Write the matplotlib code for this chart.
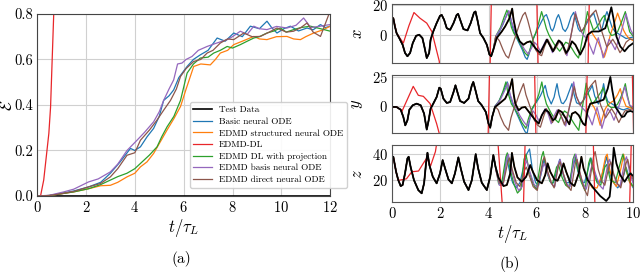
import numpy as np
import matplotlib
matplotlib.use("Agg")
import matplotlib.pyplot as plt

plt.rcParams["font.family"] = "serif"
plt.rcParams["font.serif"] = ["cmr10", "DejaVu Serif"]
plt.rcParams["mathtext.fontset"] = "cm"
plt.rcParams["axes.formatter.use_mathtext"] = True
plt.rcParams["axes.unicode_minus"] = False

C_BLUE, C_ORANGE, C_GREEN = "#1f77b4", "#ff7f0e", "#2ca02c"
C_RED, C_PURPLE, C_BROWN = "#e8262a", "#9467bd", "#8c564b"

# ---------------- (a) error growth ----------------
err_red_t = [0.0, 0.14, 0.27, 0.48, 0.55, 0.68, 0.75]
err_red = [0.0, 0.0, 0.07, 0.275, 0.39, 0.8, 0.95]

err_blue_t = [0, 0.5, 1, 1.5, 2.11, 2.6, 3, 3.4, 3.82, 4.0, 4.23, 4.5, 4.77, 5.0, 5.18, 5.4, 5.59, 5.8, 6.14, 6.4, 6.68, 7.0, 7.37, 7.7, 8.05, 8.4, 8.73, 9.1, 9.41, 9.6, 9.82, 10.1, 10.37, 10.7, 11.05, 11.3, 11.6, 11.8, 12]
err_blue = [0, 0.002, 0.012, 0.022, 0.04, 0.06, 0.1, 0.15, 0.209, 0.2, 0.216, 0.26, 0.297, 0.35, 0.42, 0.44, 0.466, 0.52, 0.569, 0.6, 0.62, 0.64, 0.694, 0.68, 0.716, 0.7, 0.746, 0.735, 0.768, 0.74, 0.716, 0.735, 0.746, 0.725, 0.738, 0.73, 0.753, 0.74, 0.746]

err_purple_t = [0, 0.5, 1.09, 1.5, 2.11, 2.5, 3, 3.3, 3.68, 4.09, 4.4, 4.77, 5.0, 5.18, 5.4, 5.59, 5.75, 5.93, 6.1, 6.34, 6.6, 6.96, 7.3, 7.78, 8.0, 8.32, 8.6, 8.87, 9.1, 9.41, 9.8, 10.23, 10.6, 10.91, 11.2, 11.6, 11.8, 12]
err_purple = [0, 0.003, 0.018, 0.03, 0.062, 0.075, 0.106, 0.14, 0.2, 0.245, 0.28, 0.326, 0.37, 0.42, 0.47, 0.51, 0.58, 0.584, 0.6, 0.613, 0.64, 0.657, 0.67, 0.687, 0.7, 0.724, 0.71, 0.746, 0.735, 0.731, 0.745, 0.738, 0.75, 0.782, 0.74, 0.746, 0.75, 0.753]

err_brown_t = [0, 0.5, 1, 1.5, 2.11, 2.6, 3, 3.3, 3.68, 4.0, 4.23, 4.6, 4.91, 5.2, 5.46, 5.7, 5.87, 6.1, 6.41, 6.7, 6.96, 7.2, 7.5, 7.8, 8.05, 8.46, 8.8, 9.14, 9.5, 9.82, 10.2, 10.5, 10.8, 11.05, 11.3, 11.6, 11.94, 12]
err_brown = [0, 0.002, 0.01, 0.02, 0.04, 0.055, 0.084, 0.12, 0.179, 0.19, 0.245, 0.29, 0.334, 0.38, 0.42, 0.47, 0.525, 0.56, 0.591, 0.6, 0.628, 0.64, 0.672, 0.69, 0.687, 0.716, 0.7, 0.701, 0.72, 0.738, 0.72, 0.724, 0.74, 0.76, 0.72, 0.701, 0.797, 0.81]

err_green_t = [0, 0.5, 1, 1.5, 2.11, 2.6, 3, 3.3, 3.68, 4.0, 4.23, 4.6, 4.91, 5.1, 5.32, 5.6, 5.87, 6.14, 6.4, 6.68, 7.0, 7.23, 7.5, 7.78, 8.0, 8.32, 8.6, 8.87, 9.1, 9.41, 9.7, 9.96, 10.2, 10.5, 10.8, 11.19, 11.6, 12]
err_green = [0, 0.002, 0.01, 0.018, 0.032, 0.05, 0.07, 0.085, 0.1, 0.12, 0.143, 0.18, 0.216, 0.26, 0.304, 0.35, 0.42, 0.54, 0.58, 0.606, 0.61, 0.628, 0.64, 0.657, 0.65, 0.665, 0.68, 0.694, 0.7, 0.716, 0.725, 0.738, 0.72, 0.731, 0.74, 0.746, 0.735, 0.724]

err_orange_t = [0, 0.5, 1, 1.5, 2.11, 2.6, 3, 3.3, 3.68, 4.0, 4.23, 4.5, 4.77, 5.0, 5.32, 5.6, 5.87, 6.1, 6.41, 6.7, 7.09, 7.3, 7.5, 7.8, 8.05, 8.4, 8.87, 9.1, 9.41, 9.8, 10.23, 10.5, 10.78, 11.0, 11.32, 11.7, 12]
err_orange = [0, 0.002, 0.01, 0.018, 0.032, 0.045, 0.047, 0.06, 0.084, 0.1, 0.128, 0.15, 0.187, 0.23, 0.29, 0.34, 0.393, 0.47, 0.569, 0.58, 0.576, 0.6, 0.628, 0.64, 0.665, 0.68, 0.701, 0.69, 0.687, 0.7, 0.701, 0.69, 0.687, 0.7, 0.716, 0.73, 0.746]

# ---------------- (b) trajectories (test data) ----------------
bx_t = [0, 0.055, 0.12, 0.19, 0.3, 0.44, 0.54, 0.64, 0.75, 0.86, 1.0, 1.13, 1.26, 1.34, 1.44, 1.54, 1.6, 1.71,
        1.85, 1.99, 2.06, 2.16, 2.27, 2.41, 2.55, 2.68, 2.74, 2.85, 2.96, 3.13, 3.26, 3.4, 3.46, 3.54, 3.65,
        3.79, 3.93, 4.04, 4.11, 4.2, 4.34, 4.55, 4.69, 4.87, 4.98, 5.04, 5.15, 5.29, 5.45, 5.59, 5.73, 5.94,
        6.14, 6.28, 6.42, 6.53, 6.67, 6.81, 6.91, 7.04, 7.22, 7.32, 7.46, 7.6, 7.8, 7.97, 8.11, 8.29, 8.57,
        8.84, 8.99, 9.09, 9.19, 9.3, 9.46, 9.64, 9.81, 10.0]
bx = [11, 11.1, 5.6, 1.1, -2.2, -6.7, -12.2, -14.4, -12.2, -5.6, -0.7, 0, -2.2, -7.8, -15.6, -12.2, -3.3, 2.2,
      7.8, 12.7, 13.3, 10, 4.4, 3.3, 7.8, 13.3, 14, 8.9, 3.8, 2.9, 7.8, 14.9, 15.6, 10, 1.1,
      -2.2, -6.7, -13.3, -14.4, -10, -2.2, 2.2, 5.6, 11.1, 17.5, 10, 1.1, -4.4, -6.7, -5.1, -4.4, -8.9,
      -12.2, -7.8, -3.3, -6.7, -11.1, -6.7, -3.8, -5.6, -12.2, -10, -4.4, -6.7, -13.3, -7.8, 0, 2.2, 2.2,
      4.4, 12.2, 18.4, 10, -1.1, -7.8, -11.1, -7.8, -5.6]

by_t = [0, 0.19, 0.36, 0.47, 0.55, 0.64, 0.72, 0.86, 1.02, 1.19, 1.33, 1.44, 1.52, 1.6, 1.71, 1.85, 1.96, 2.02,
        2.13, 2.27, 2.41, 2.55, 2.63, 2.71, 2.82, 2.99, 3.17, 3.31, 3.37, 3.46, 3.57, 3.72, 3.89, 4.0, 4.07,
        4.15, 4.27, 4.48, 4.69, 4.88, 4.98, 5.04, 5.11, 5.25, 5.38, 5.52, 5.73, 5.94, 6.08, 6.21, 6.35, 6.49,
        6.67, 6.77, 6.91, 7.04, 7.25, 7.35, 7.46, 7.6, 7.74, 7.92, 8.01, 8.11, 8.22, 8.5, 8.77, 8.94, 9.05,
        9.13, 9.26, 9.4, 9.53, 9.63, 9.74, 9.88, 10.0]
by = [-0.5, -0.6, -2.9, -9.2, -16.4, -12, -2.9, 0.9, 2.3, 0.9, -6.3, -20, -12, -2, 2.3, 8, 16.1, 15.2,
      6.6, 2.9, 3.7, 12.3, 18.1, 12.3, 4.6, 2.9, 6.6, 18.1, 21, 13.8, 4.6, 0.9, -4.9, -14.9, -18.4,
      -9.2, -0.6, 2.9, 6.6, 15.2, 23.5, 10.9, 2.3, -3.4, -1.1, -0.6, -6.3, -12, -14.9, -7.7, -2.9, -4.9,
      -12, -10.6, -3.4, -4.9, -12, -15.5, -6.3, -4.9, -7.7, -14.9, -16.4, -3.4, 2.3, 3.7, 5.7, 15.2, 25.3,
      13.8, -0.6, -4.9, -9.2, -8.6, -4.9, -4, -4.9]

bz_t = [0, 0.055, 0.17, 0.26, 0.36, 0.44, 0.54, 0.64, 0.69, 0.77, 0.91, 1.09, 1.23, 1.33, 1.41, 1.47, 1.55,
        1.69, 1.85, 1.99, 2.1, 2.2, 2.34, 2.48, 2.61, 2.75, 2.85, 2.99, 3.17, 3.31, 3.47, 3.57, 3.72, 3.93,
        4.07, 4.2, 4.29, 4.41, 4.62, 4.76, 4.9, 4.97, 5.07, 5.2, 5.38, 5.56, 5.73, 5.84, 6.01, 6.21, 6.35,
        6.45, 6.56, 6.73, 6.86, 7.0, 7.11, 7.22, 7.39, 7.56, 7.74, 7.85, 7.94, 8.11, 8.36, 8.63, 8.88, 9.02,
        9.12, 9.19, 9.3, 9.46, 9.64, 9.77, 9.88, 10.0]
bz = [38, 38, 26.4, 20, 15.4, 16.2, 25.2, 36.7, 38, 30.3, 20, 12.3, 9.8, 17.5, 32.9, 41.1, 31.6,
      22.6, 17.5, 25.2, 35.4, 29, 20.5, 17.5, 25.2, 37.5, 29, 18.7, 12.3, 20, 40, 29, 18, 12.3,
      22.6, 39.3, 30.3, 22, 15.4, 16.2, 25.2, 41, 30.3, 22.1, 18.7, 22.6, 31.6, 26.4, 20, 17.5, 23.9,
      32.9, 26.4, 20.5, 19.5, 25.2, 32.9, 26.4, 18, 15.4, 25.2, 38, 29, 20, 13.6, 7.7, 3.9, 7.2,
      25.2, 45, 32.9, 23.9, 18.7, 22.6, 25.2, 23.1]

# red (EDMD-DL) diverges early and leaves the axes
rx_t = [0, 0.055, 0.19, 0.47, 0.7, 0.91, 1.16, 1.44, 1.65, 1.96, 2.1, 4.02, 4.16, 5.96, 6.1, 8.08, 8.22, 10.0]
rx = [11, 11.1, 1.1, -5.6, 6, 14.9, 11.1, 7.8, 2.2, -17.8, -60, -60, 60, 60, -60, -60, 60, 60]
ry_t = [0, 0.19, 0.36, 0.4, 0.68, 0.88, 1.09, 1.3, 1.58, 1.85, 1.96, 2.1, 3.95, 4.07, 5.88, 6.0, 8.0, 8.12, 9.93, 10.05]
ry = [-0.5, -0.6, -2.9, -4.9, 8, 17.2, 9.5, 8.6, 2.3, -15, -23.5, -60, -60, 60, 60, -60, -60, 60, 60, -60]
rz_t = [0, 0.055, 0.17, 0.26, 0.33, 0.6, 0.82, 1.1, 1.3, 1.44, 1.6, 1.8, 1.95, 4.35, 4.65, 5.42, 5.56, 8.3, 8.44, 9.82, 9.96]
rz = [38, 38, 26.4, 20, 20, 21, 26.4, 27, 33, 37, 31, 42, 60, 60, -20, -20, 80, 80, -20, -20, 80]

# other models: own points after they leave the test trajectory
blue_x_t = [4.3, 4.45, 4.6, 4.72, 4.82, 4.9, 5.0, 5.1, 5.25, 5.4, 5.52, 5.6, 5.68, 5.78, 5.9, 6.05, 6.2, 6.32, 6.4, 6.5, 6.58, 6.65, 6.72, 6.82, 6.9, 6.98, 7.08, 7.18, 7.28, 7.42, 7.53, 7.62, 7.72, 7.8, 7.92, 8.05, 8.2, 8.36, 8.46, 8.56, 8.63, 8.72, 8.83, 8.91, 9.0, 9.12, 9.25, 9.4, 9.55, 9.7, 9.85, 10]
blue_x = [-2, 2, 7, 12, 16, 12, 5, 0, -5, -10, -15, -16.5, -13, -6, -1, 4, 9, 12.5, 13.5, 9, 4, 2.5, 5, 11, 13.5, 10, 4, 2.2, 5, 12, 15, 10, 4, 2.2, 3.5, 7, 11.5, 14.5, 9, 4, 2.2, 5, 12, 15.5, 11, 5, 2, 0.5, -1, -2.5, -2, -1.5]
orange_x_t = [8.3, 8.42, 8.55, 8.68, 8.8, 8.9, 9.05, 9.18, 9.28, 9.35, 9.45, 9.6, 9.7, 9.8, 10]
orange_x = [1, -2, -5, -10, -15, -10, 0, 6, 11, 14.5, 10, 3, 0, -2, -4]
green_x_t = [4.3, 4.5, 4.65, 4.76, 4.85, 4.95, 5.05, 5.2, 5.35, 5.5, 5.62, 5.72, 5.82, 5.95, 6.08, 6.2, 6.3, 6.4, 6.5, 6.6, 6.75, 6.95, 7.08, 7.2, 7.32, 7.45, 7.6, 7.73, 7.82, 7.9, 8.0, 8.1, 8.2, 8.35, 8.48, 8.6, 8.7, 8.8, 8.9, 9.0, 9.1, 9.2, 9.35, 9.5, 9.67, 9.75, 9.85, 10]
green_x = [-1, 5, 12, 16.5, 12, 5, 1, -2.5, -7, -12, -14, -10, -4, 1, 8, 15.5, 10, 4, 0, -3, -7, -11, -8, -5, -6, -9, -13, -15.6, -9, -2, 6, 15.5, 10, 3, 5, 8, 11, 13, 8, 2, -0.5, 0, 2, 8, 15.5, 9, 2, -1]
purple_x_t = [4.3, 4.5, 4.7, 4.85, 4.95, 5.1, 5.22, 5.35, 5.5, 5.65, 5.78, 5.9, 6.02, 6.15, 6.28, 6.4, 6.52, 6.65, 6.78, 6.9, 7.05, 7.25, 7.33, 7.4, 7.5, 7.6, 7.7, 7.85, 7.97, 8.1, 8.22, 8.35, 8.45, 8.55, 8.65, 8.75, 8.88, 9.0, 9.12, 9.25, 9.38, 9.5, 9.6, 9.7, 9.8, 9.9, 10]
purple_x = [-1, 4, 11, 16, 9, 2, -2, -6, -10, -13, -9, -5, -7, -11, -7, -3, -6, -12, -8, -4, -7, -14, -8, -2, 7, 15.5, 9, 2, -1, -3, -8, -13, -7, -2, -8, -15.5, -9, -3, -6, -10, -4, 2, 8, 14, 8, 3, 0]
brown_x_t = [4.3, 4.45, 4.6, 4.72, 4.83, 4.95, 5.1, 5.2, 5.3, 5.42, 5.52, 5.62, 5.75, 5.85, 5.95, 6.08, 6.2, 6.32, 6.45, 6.58, 6.7, 6.82, 6.95, 7.08, 7.2, 7.3, 7.4, 7.5, 7.6, 7.72, 7.85, 7.97, 8.1, 8.3, 8.45, 8.57, 8.7, 8.8, 8.9, 9.02, 9.15, 9.3, 9.45, 9.58, 9.7, 9.85, 10]
brown_x = [-1, -4, -10, -14, -15.6, -9, -2, 3, 8, 13, 15, 10, 2, -4, -10, -13, -14, -8, -3, -7, -11, -8, -4, -8, -13, -9, -2, 6, 14, 8, 2, 5, 10, 14, 16.5, 10, 2, -3, -8, -6, -3, -7, -12, -9, -5, -3, -3]

blue_y_t = [4.27, 4.42, 4.6, 4.72, 4.78, 4.86, 5.0, 5.12, 5.25, 5.42, 5.52, 5.6, 5.68, 5.8, 5.9, 6.0, 6.15, 6.28, 6.35, 6.45, 6.6, 6.72, 6.8, 6.84, 6.92, 7.02, 7.1, 7.22, 7.38, 7.46, 7.55, 7.65, 7.75, 7.9, 8.05, 8.2, 8.3, 8.4, 8.55, 8.65, 8.72, 8.77, 8.85, 8.95, 9.05, 9.2, 9.35, 9.5, 9.6, 9.8, 10]
blue_y = [0, 4, 12, 18, 21, 12, 2, -4, -10, -18, -22, -23.5, -14, -3, 1, 4, 9, 15, 18, 9, 2, 8, 16, 19.5, 10, 3, 2.3, 6, 15, 19.5, 10, 3, 2, 4, 9, 14, 18, 9, 2, 6, 14, 19.5, 10, 4, 3, 1, -1, -2.5, -3, -1.5, 0]
orange_y_t = [8.25, 8.38, 8.5, 8.63, 8.72, 8.82, 8.9, 9.05, 9.2, 9.35, 9.46, 9.55, 9.7, 9.85, 10]
orange_y = [3, -1, -7, -16.4, -10, -3, 0, 3, 5, 10, 15.2, 8, 0, -1, -2]
green_y_t = [4.27, 4.45, 4.6, 4.72, 4.8, 4.95, 5.08, 5.2, 5.38, 5.55, 5.65, 5.8, 5.95, 6.08, 6.21, 6.3, 6.4, 6.5, 6.6, 6.75, 6.9, 7.02, 7.15, 7.28, 7.4, 7.58, 7.74, 7.82, 7.88, 7.96, 8.05, 8.15, 8.3, 8.42, 8.55, 8.65, 8.75, 8.85, 8.95, 9.08, 9.2, 9.35, 9.45, 9.58, 9.67, 9.75, 9.85, 10]
green_y = [0, 5, 13, 21, 12, 2, -2, -6, -14, -19, -11, -2, 3, 10, 21, 10, 2, -2, -6, -11, -14, -8, -4, -6, -10, -16, -20.7, -10, -2, 8, 20, 10, 2, 5, 9, 12, 16, 8, 1, -1, -1, 2, 6, 13, 19.5, 10, 1, -2]
purple_y_t = [4.27, 4.5, 4.68, 4.8, 4.9, 5.05, 5.18, 5.3, 5.45, 5.6, 5.72, 5.85, 5.98, 6.1, 6.22, 6.35, 6.48, 6.6, 6.72, 6.85, 7.0, 7.12, 7.2, 7.28, 7.35, 7.45, 7.53, 7.62, 7.8, 7.92, 8.05, 8.18, 8.3, 8.4, 8.5, 8.6, 8.7, 8.82, 8.95, 9.08, 9.2, 9.32, 9.45, 9.55, 9.65, 9.75, 9.85, 10]
purple_y = [0, 6, 14, 20, 10, 1, -3, -8, -13, -17, -10, -4, -8, -13, -7, -2, -7, -15, -8, -3, -8, -13, -17, -9, -1, 10, 21, 10, 1, -2, -5, -10, -16, -8, -1, -9, -19, -10, -2, -6, -12, -5, 3, 10, 17, 8, 1, -1]
brown_y_t = [4.27, 4.4, 4.5, 4.65, 4.83, 4.93, 5.05, 5.15, 5.25, 5.36, 5.45, 5.55, 5.7, 5.8, 5.9, 6.02, 6.15, 6.28, 6.4, 6.52, 6.65, 6.78, 6.9, 7.02, 7.15, 7.25, 7.35, 7.45, 7.55, 7.65, 7.8, 7.92, 8.05, 8.25, 8.43, 8.53, 8.65, 8.75, 8.85, 8.97, 9.1, 9.25, 9.4, 9.52, 9.65, 9.8, 10]
brown_y = [0, -3, -9, -16, -20.7, -10, -2, 3, 9, 15, 19.5, 10, 1, -5, -12, -16, -18, -9, -2, -7, -14, -8, -3, -9, -16, -9, -1, 7, 17, 8, 1, 5, 12, 18, 22.4, 10, 1, -4, -10, -6, -2, -7, -14, -9, -4, -3, -2]

blue_z_t = [4.3, 4.5, 4.62, 4.75, 4.88, 5.0, 5.15, 5.3, 5.58, 5.7, 5.82, 5.95, 6.08, 6.3, 6.42, 6.58, 6.7, 6.95, 7.05, 7.2, 7.33, 7.6, 7.7, 7.85, 7.98, 8.25, 8.36, 8.5, 8.62, 8.9, 9.0, 9.15, 9.35, 9.5, 9.7, 9.8, 9.9, 10]
blue_z = [30, 17, 20, 38, 26, 18, 14, 18, 40, 44, 28, 18, 16, 36, 26, 18, 18, 36, 27, 18, 18, 37, 27, 19, 18, 37, 28, 19, 18, 38, 27, 19, 14, 17, 30, 24, 17, 14]
orange_z_t = [8.3, 8.5, 8.7, 8.85, 8.92, 9.0, 9.15, 9.3, 9.5, 9.6, 9.7, 9.85, 10]
orange_z = [14, 14, 24, 38, 40, 30, 19, 15, 30, 40, 28, 18, 15]
green_z_t = [4.3, 4.42, 4.55, 4.72, 4.78, 4.9, 5.05, 5.2, 5.35, 5.47, 5.55, 5.7, 5.85, 5.98, 6.2, 6.27, 6.4, 6.55, 6.65, 6.82, 6.9, 7.05, 7.2, 7.35, 7.5, 7.58, 7.7, 7.85, 8.0, 8.15, 8.22, 8.35, 8.5, 8.65, 8.82, 8.9, 9.05, 9.25, 9.5, 9.57, 9.7, 9.85, 10]
green_z = [30, 17, 18, 38, 41, 28, 17, 10, 13, 36, 40, 26, 17, 13, 38, 42, 28, 19, 17, 30, 32, 22, 16, 14, 36, 40, 28, 18, 12, 33, 37, 26, 18, 16, 30, 32, 20, 18, 36, 40, 28, 19, 15]
purple_z_t = [4.3, 4.45, 4.6, 4.76, 4.82, 4.95, 5.1, 5.25, 5.4, 5.52, 5.58, 5.72, 5.88, 6.02, 6.25, 6.32, 6.45, 6.62, 6.75, 6.9, 6.97, 7.1, 7.25, 7.38, 7.55, 7.62, 7.75, 7.9, 8.05, 8.25, 8.32, 8.45, 8.6, 8.75, 8.95, 9.02, 9.15, 9.3, 9.45, 9.65, 9.72, 9.85, 10]
purple_z = [28, 16, 16, 37, 40, 28, 18, 12, 15, 32, 35, 26, 17, 14, 30, 33, 25, 17, 15, 33, 36, 25, 17, 15, 37, 40, 28, 18, 13, 29, 32, 24, 16, 13, 33, 36, 26, 18, 15, 35, 38, 26, 17]
brown_z_t = [4.3, 4.45, 4.62, 4.8, 4.87, 5.0, 5.15, 5.3, 5.5, 5.57, 5.7, 5.85, 6.02, 6.25, 6.32, 6.45, 6.6, 6.72, 6.9, 6.97, 7.1, 7.25, 7.42, 7.6, 7.67, 7.8, 7.95, 8.1, 8.35, 8.42, 8.55, 8.7, 8.82, 9.0, 9.07, 9.2, 9.35, 9.48, 9.7, 9.77, 9.9, 10]
brown_z = [28, 18, 18, 34, 37, 27, 18, 15, 28, 30, 23, 15, 12, 35, 38, 27, 18, 14, 31, 34, 25, 16, 12, 33, 36, 25, 14, 8, 38, 42, 28, 19, 16, 31, 34, 24, 17, 14, 33, 36, 25, 20]


def branch(base_t, base_v, own_t, own_v):
    # model follows the test data until its own points start
    k = int(np.searchsorted(base_t, own_t[0]))
    return list(base_t[:k]) + list(own_t), list(base_v[:k]) + list(own_v)


fig = plt.figure(figsize=(6.4, 2.78), dpi=100)

# ---- panel (a)
ax = fig.add_axes([0.058, 0.295, 0.458, 0.655])
ax.plot([0, 12], [0, 0], color="black", lw=1.2, label="Test Data")
ax.plot(err_blue_t, err_blue, color=C_BLUE, lw=0.9, label="Basic neural ODE")
ax.plot(err_orange_t, err_orange, color=C_ORANGE, lw=0.9, label="EDMD structured neural ODE")
ax.plot(err_red_t, err_red, color=C_RED, lw=0.9, label="EDMD-DL")
ax.plot(err_green_t, err_green, color=C_GREEN, lw=0.9, label="EDMD DL with projection")
ax.plot(err_purple_t, err_purple, color=C_PURPLE, lw=0.9, label="EDMD basis neural ODE")
ax.plot(err_brown_t, err_brown, color=C_BROWN, lw=0.9, label="EDMD direct neural ODE")
ax.set_xlim(0, 12)
ax.set_ylim(0, 0.8)
ax.set_xticks(range(0, 13, 2))
ax.set_yticks([0.0, 0.2, 0.4, 0.6, 0.8])
ax.set_yticklabels(["0.0", "0.2", "0.4", "0.6", "0.8"])
ax.grid(True, color="#d0d0d0", lw=0.8)
ax.tick_params(labelsize=10.5, length=0, pad=3)
ax.set_xlabel(r"$t/\tau_L$", fontsize=12, labelpad=1)
ax.set_ylabel(r"$\mathcal{E}$", fontsize=12)
ax.yaxis.set_label_coords(-0.075, 0.5)
for s in ax.spines.values():
    s.set_color("#444444")
ax.legend(loc="lower left", bbox_to_anchor=(0.505, 0.02), fontsize=6.6, frameon=True,
          fancybox=True, framealpha=0.9, edgecolor="#cccccc", handlelength=2.0,
          borderpad=0.4, labelspacing=0.35, handletextpad=0.8)
fig.text(0.283, 0.055, "(a)", fontsize=11, ha="center")

# ---- panel (b)
rows = [
    (0.773, 0.212, bx_t, bx, rx_t, rx,
     [(blue_x_t, blue_x, C_BLUE), (orange_x_t, orange_x, C_ORANGE), (green_x_t, green_x, C_GREEN),
      (purple_x_t, purple_x, C_PURPLE), (brown_x_t, brown_x, C_BROWN)],
     (-19, 20.5), [0, 20], r"$x$"),
    (0.5216, 0.2086, by_t, by, ry_t, ry,
     [(blue_y_t, blue_y, C_BLUE), (orange_y_t, orange_y, C_ORANGE), (green_y_t, green_y, C_GREEN),
      (purple_y_t, purple_y, C_PURPLE), (brown_y_t, brown_y, C_BROWN)],
     (-23, 27), [0, 25], r"$y$"),
    (0.273, 0.205, bz_t, bz, rz_t, rz,
     [(blue_z_t, blue_z, C_BLUE), (orange_z_t, orange_z, C_ORANGE), (green_z_t, green_z, C_GREEN),
      (purple_z_t, purple_z, C_PURPLE), (brown_z_t, brown_z, C_BROWN)],
     (3, 47), [20, 40], r"$z$"),
]
for i, (bot, h, tt, vv, rt, rv, models, ylim, yt, lab) in enumerate(rows):
    a = fig.add_axes([0.6125, bot, 0.377, h])
    for mt, mv, col in models:
        t2, v2 = branch(tt, vv, mt, mv)
        a.plot(t2, v2, color=col, lw=0.9)
    a.plot(rt, rv, color=C_RED, lw=0.9)
    a.plot(tt, vv, color="black", lw=1.3)
    a.set_xlim(0, 10)
    a.set_ylim(*ylim)
    a.set_yticks(yt)
    a.set_xticks(range(0, 11, 2))
    a.grid(True, color="#d0d0d0", lw=0.8)
    a.tick_params(labelsize=10.5, length=0, pad=3)
    a.set_ylabel(lab, fontsize=12)
    a.yaxis.set_label_coords(-0.11, 0.5)
    for s in a.spines.values():
        s.set_color("#555555")
    if i < 2:
        a.set_xticklabels([])
    else:
        a.set_xlabel(r"$t/\tau_L$", fontsize=12, labelpad=1)
fig.text(0.797, 0.035, "(b)", fontsize=11, ha="center")

fig.savefig("out.png", dpi=100)
